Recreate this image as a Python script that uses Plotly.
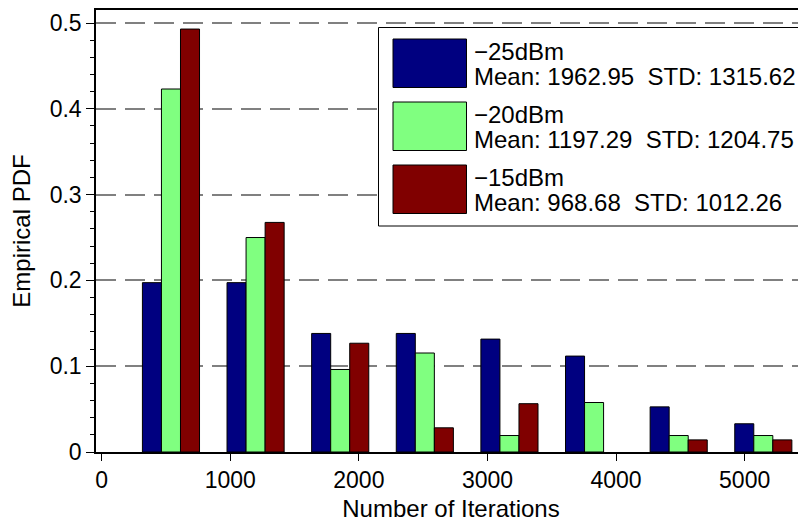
import plotly.graph_objects as go

# ---- data ----
bin_centers = [539, 1197, 1855, 2513, 3171, 3829, 4487, 5145]
series_names = ["\u221225dBm", "\u221220dBm", "\u221215dBm"]
series_stats = ["Mean: 1962.95\u00a0 STD: 1315.62",
                "Mean: 1197.29\u00a0 STD: 1204.75",
                "Mean: 968.68\u00a0 STD: 1012.26"]
pdf_m25 = [0.1974, 0.1974, 0.1382, 0.1382, 0.1316, 0.1118, 0.0526, 0.0329]
pdf_m20 = [0.4231, 0.2500, 0.0962, 0.1154, 0.0192, 0.0577, 0.0192, 0.0192]
pdf_m15 = [0.4930, 0.2676, 0.1268, 0.0282, 0.0563, 0.0000, 0.0141, 0.0141]
x_ticks = [0, 1000, 2000, 3000, 4000, 5000]
y_ticks = [0, 0.1, 0.2, 0.3, 0.4, 0.5]
y_tick_labels = ["0", "0.1", "0.2", "0.3", "0.4", "0.5"]
x_title = "Number of Iterations"
y_title = "Empirical PDF"

colors = ["#000080", "#80FF80", "#800000"]
FONT = "Liberation Sans, Arial, Helvetica, sans-serif"

# the page body has an 8px margin; figure is sized to fill the rest of the window
OFF = 8
W, H = 806 - OFF, 527 - OFF
# plot area in window pixels: left 96, right 806, top 10, bottom 452
ML, MR, MT, MB = 96 - OFF, 0, 10 - OFF, 527 - 452
PW, PH = W - ML - MR, H - MT - MB


def px(xpix):
    return (xpix - OFF - ML) / PW


def py(ypix):
    return (H - MB - (ypix - OFF)) / PH


fig = go.Figure()
for name, vals, col in zip(series_names, [pdf_m25, pdf_m20, pdf_m15], colors):
    fig.add_trace(go.Bar(
        x=bin_centers, y=vals, name=name, showlegend=False,
        marker=dict(color=col, line=dict(color="black", width=[0 if v == 0 else 1 for v in vals])),
    ))

fig.update_layout(
    width=W, height=H,
    margin=dict(l=ML, r=MR, t=MT, b=MB, autoexpand=False),
    paper_bgcolor="white", plot_bgcolor="white",
    barmode="group", bargap=0.325, bargroupgap=0,
    font=dict(family=FONT, size=23, color="black"),
)

fig.update_xaxes(
    range=[-44, 5477], tickvals=x_ticks, ticks="outside", ticklen=7, tickwidth=1, tickcolor="black",
    showline=True, linecolor="black", linewidth=1.5, mirror="ticks", showgrid=False, zeroline=False,
    automargin=False, tickfont=dict(size=23), title=dict(text=x_title, font=dict(size=24), standoff=8),
)
fig.update_yaxes(
    range=[0, 0.5152], tickvals=y_ticks, ticktext=y_tick_labels, ticks="outside", ticklen=8, tickwidth=1,
    tickcolor="black", showline=True, linecolor="black", linewidth=1.5, mirror=False,
    showgrid=True, gridcolor="#808080", gridwidth=1.5, griddash="20px,9px", zeroline=False,
    minor=dict(dtick=0.02, ticks="outside", ticklen=4, tickcolor="black", showgrid=False),
    automargin=False, tickfont=dict(size=23), title=dict(text=y_title, font=dict(size=24), standoff=12),
)

# legend (drawn as a box with swatches and text)
shapes = [dict(type="rect", xref="paper", yref="paper", x0=px(378.5), x1=px(801.5), y0=py(226), y1=py(27.5),
               fillcolor="white", line=dict(color="black", width=1), layer="above")]
annotations = []
for i, (name, stat, col) in enumerate(zip(series_names, series_stats, colors)):
    top = 39 + 63 * i
    shapes.append(dict(type="rect", xref="paper", yref="paper", x0=px(393), x1=px(466.5), y0=py(top + 48.5),
                       y1=py(top), fillcolor=col, line=dict(color="black", width=1), layer="above"))
    annotations.append(dict(xref="paper", yref="paper", x=px(472), y=py(top + 12.5), text=name, showarrow=False,
                            xanchor="left", yanchor="middle", font=dict(size=24, family=FONT)))
    annotations.append(dict(xref="paper", yref="paper", x=px(472), y=py(top + 37.5), text=stat, showarrow=False,
                            xanchor="left", yanchor="middle", font=dict(size=24, family=FONT)))
fig.update_layout(shapes=shapes, annotations=annotations)

fig.write_html("out.html")
